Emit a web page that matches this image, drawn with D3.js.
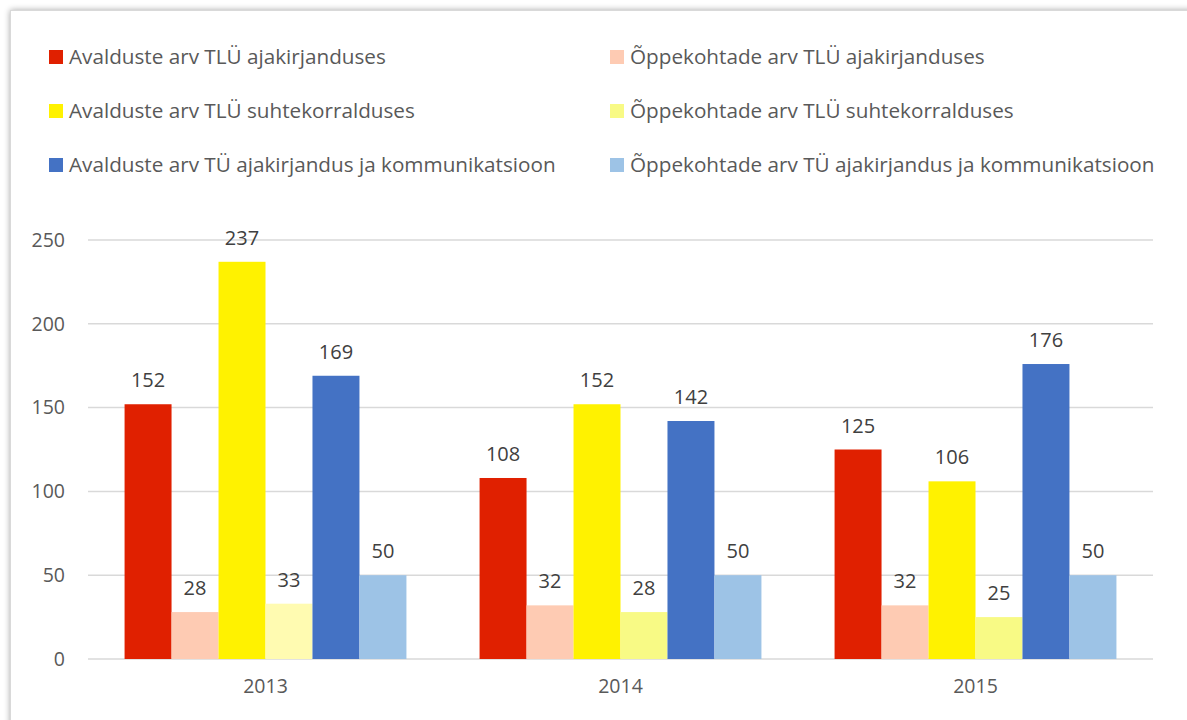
<!DOCTYPE html>
<html>
<head>
<meta charset="utf-8">
<script src="https://cdn.jsdelivr.net/npm/d3@7"></script>
<style>
  body { margin: 0; background: #fff; }
  svg { display: block; font-family: 'Open Sans', 'Noto Sans', sans-serif; }
</style>
</head>
<body>
<svg id="chart" width="1187" height="720"></svg>
<script>
const years = ['2013', '2014', '2015'];

const seriesNames = [
  'Avalduste arv TLÜ ajakirjanduses',
  'Õppekohtade arv TLÜ ajakirjanduses',
  'Avalduste arv TLÜ suhtekorralduses',
  'Õppekohtade arv TLÜ suhtekorralduses',
  'Avalduste arv TÜ ajakirjandus ja kommunikatsioon',
  'Õppekohtade arv TÜ ajakirjandus ja kommunikatsioon'
];

const seriesColors = ['#e02000', '#fecbb3', '#fff200', '#f8fa85', '#4472c4', '#9dc3e6'];

// values per series, one per year
const avaldusedTluAjak = [152, 108, 125];
const kohadTluAjak = [28, 32, 32];
const avaldusedTluSuhte = [237, 152, 106];
const kohadTluSuhte = [33, 28, 25];
const avaldusedTuAjak = [169, 142, 176];
const kohadTuAjak = [50, 50, 50];

const seriesValues = [
  avaldusedTluAjak, kohadTluAjak, avaldusedTluSuhte,
  kohadTluSuhte, avaldusedTuAjak, kohadTuAjak
];

// the 2013 point of "Õppekohtade arv TLÜ suhtekorralduses" is paler in the original
const pointColorOverride = { '3-2013': '#fffbb1' };

const yTicks = [0, 50, 100, 150, 200, 250];

const margin = { top: 240, right: 34, bottom: 61, left: 88 },
  width = 1187,
  height = 720;

const svg = d3.select('#chart');

// chart frame with soft shadow
const defs = svg.append('defs');
const filter = defs.append('filter')
  .attr('id', 'shadow')
  .attr('x', '-5%').attr('y', '-5%')
  .attr('width', '110%').attr('height', '110%');
filter.append('feGaussianBlur').attr('in', 'SourceAlpha').attr('stdDeviation', 3);
filter.append('feOffset').attr('dx', 0).attr('dy', 0).attr('result', 'blur');
filter.append('feComponentTransfer').append('feFuncA').attr('type', 'linear').attr('slope', 0.35);
const merge = filter.append('feMerge');
merge.append('feMergeNode');
merge.append('feMergeNode').attr('in', 'SourceGraphic');

svg.append('rect')
  .attr('x', 10.5)
  .attr('y', 10.5)
  .attr('width', 1300)
  .attr('height', 800)
  .attr('fill', '#fff')
  .attr('stroke', '#d9d9d9')
  .attr('stroke-width', 1)
  .attr('filter', 'url(#shadow)');

// legend
const legend = svg.append('g').attr('class', 'legend');
const legendCols = [49, 610];
const legendRows = [57, 111, 165];

seriesNames.forEach((name, i) => {
  const col = i % 2;
  const row = Math.floor(i / 2);
  const g = legend.append('g')
    .attr('transform', `translate(${legendCols[col]},${legendRows[row]})`);
  g.append('rect')
    .attr('x', 0)
    .attr('y', -7)
    .attr('width', 14)
    .attr('height', 14)
    .attr('fill', seriesColors[i]);
  g.append('text')
    .attr('x', 20)
    .attr('y', 0)
    .attr('dy', '0.35em')
    .attr('fill', '#595959')
    .style('font-size', '20.7px')
    .text(name);
});

// scales
const y = d3.scaleLinear()
  .domain([0, 250])
  .range([height - margin.bottom, margin.top]);

const x0 = d3.scaleBand()
  .domain(years)
  .range([margin.left, width - margin.right])
  .padding(0);

const groupGap = x0.step() * 0.103;

const x1 = d3.scaleBand()
  .domain(d3.range(seriesNames.length))
  .range([groupGap, x0.bandwidth() - groupGap])
  .padding(0);

// gridlines
svg.append('g')
  .attr('class', 'grid')
  .selectAll('line')
  .data(yTicks)
  .join('line')
  .attr('x1', margin.left)
  .attr('x2', width - margin.right)
  .attr('y1', d => y(d))
  .attr('y2', d => y(d))
  .attr('stroke', '#d9d9d9')
  .attr('stroke-width', 1.5);

// y axis labels
svg.append('g')
  .attr('id', 'yAxis')
  .attr('transform', `translate(${margin.left},0)`)
  .call(d3.axisLeft(y).tickValues(yTicks).tickSize(0).tickPadding(23))
  .call(g => g.select('.domain').remove())
  .selectAll('text')
  .attr('fill', '#595959')
  .style('font-size', '19.5px')
  .style('font-family', "'Open Sans', 'Noto Sans', sans-serif");

// x axis labels
svg.append('g')
  .attr('id', 'xAxis')
  .attr('transform', `translate(0,${height - margin.bottom})`)
  .call(d3.axisBottom(x0).tickSize(0).tickPadding(20))
  .call(g => g.select('.domain').remove())
  .selectAll('text')
  .attr('fill', '#595959')
  .style('font-size', '19.5px')
  .style('font-family', "'Open Sans', 'Noto Sans', sans-serif");

// bars
const bars = [];
seriesValues.forEach((vals, s) => {
  vals.forEach((v, yi) => {
    bars.push({ series: s, year: years[yi], value: v });
  });
});

svg.append('g')
  .attr('class', 'bars')
  .selectAll('rect')
  .data(bars)
  .join('rect')
  .attr('x', d => x0(d.year) + x1(d.series))
  .attr('y', d => y(d.value))
  .attr('width', x1.bandwidth())
  .attr('height', d => y(0) - y(d.value))
  .attr('fill', d => pointColorOverride[`${d.series}-${d.year}`] || seriesColors[d.series]);

// data labels
svg.append('g')
  .attr('class', 'labels')
  .selectAll('text')
  .data(bars)
  .join('text')
  .attr('x', d => x0(d.year) + x1(d.series) + x1.bandwidth() / 2)
  .attr('y', d => y(d.value) - 17)
  .attr('text-anchor', 'middle')
  .attr('fill', '#404040')
  .style('font-size', '20px')
  .text(d => d.value);
</script>
</body>
</html>
